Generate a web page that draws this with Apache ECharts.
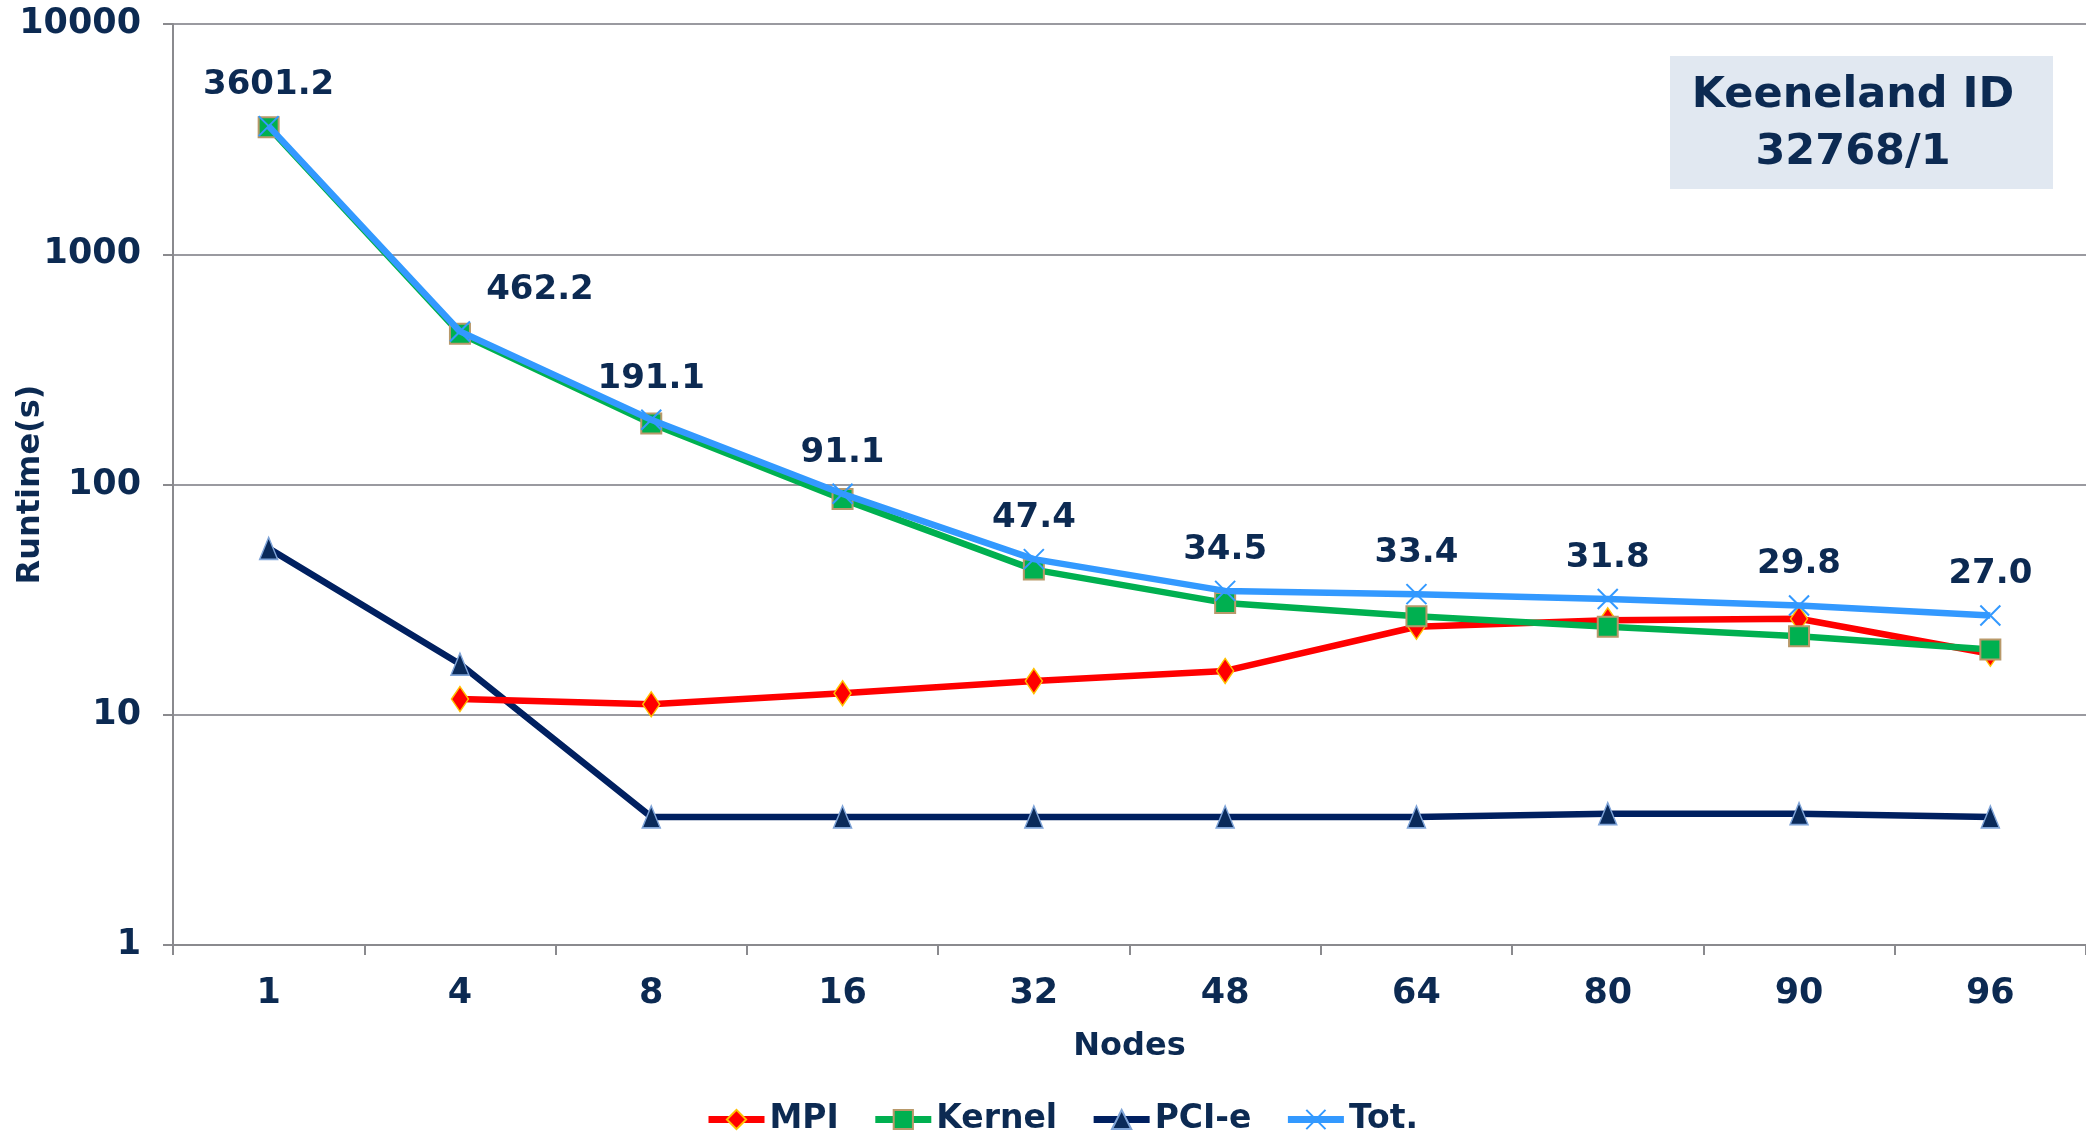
<!DOCTYPE html>
<html>
<head>
<meta charset="utf-8">
<style>
  html, body { margin: 0; padding: 0; background: #fff; }
  #chart { width: 2086px; height: 1138px; }
</style>
<script src="https://cdn.jsdelivr.net/npm/echarts@6/dist/echarts.min.js"></script>
</head>
<body>
<div id="chart"></div>
<script>
// nodes on the x axis
var nodes = ['1', '4', '8', '16', '32', '48', '64', '80', '90', '96'];
// runtimes in seconds
var mpi = [null, 11.7, 11.1, 12.4, 14.0, 15.5, 24.1, 25.7, 26.1, 18.4];
var kernel = [3560, 452, 184, 86.4, 42.7, 30.6, 26.8, 24.1, 21.9, 19.2];
var pcie = [52.8, 16.6, 3.6, 3.6, 3.6, 3.6, 3.6, 3.72, 3.72, 3.6];
var total = [3601.2, 462.2, 191.1, 91.1, 47.4, 34.5, 33.4, 31.8, 29.8, 27.0];

var navy = '#0c2a52';
var font = 'DejaVu Sans';

var totalData = total.map(function (v, i) {
  // the 462.2 label sits off to the right in the original
  return i === 1 ? { value: v, label: { offset: [80, 0] } } : v;
});

var chart = echarts.init(document.getElementById('chart'));
chart.setOption({
  animation: false,
  textStyle: { fontFamily: font },
  grid: { left: 173, right: 0, top: 24, bottom: 193, containLabel: false, outerBoundsMode: 'none' },
  legend: {
    left: 700,
    top: 1098,
    itemWidth: 56,
    itemHeight: 24,
    itemGap: 33,
    lineStyle: { width: 7 },
    textStyle: { color: navy, fontSize: 33, fontWeight: 'bold', fontFamily: font },
    data: ['MPI', 'Kernel', 'PCI-e', 'Tot.']
  },
  xAxis: {
    type: 'category',
    data: nodes,
    name: 'Nodes',
    nameLocation: 'middle',
    nameGap: 86,
    nameMoveOverlap: false,
    nameTextStyle: { color: navy, fontSize: 32, fontWeight: 'bold' },
    axisLine: { lineStyle: { color: '#8a8a8e', width: 2 } },
    axisTick: { show: true, length: 10, lineStyle: { color: '#8a8a8e', width: 2 } },
    axisLabel: { color: navy, fontSize: 35, fontWeight: 'bold', margin: 31 }
  },
  yAxis: {
    type: 'log',
    logBase: 10,
    min: 1,
    max: 10000,
    name: 'Runtime(s)',
    nameLocation: 'middle',
    nameGap: 126,
    nameMoveOverlap: false,
    nameTextStyle: { color: navy, fontSize: 32, fontWeight: 'bold' },
    axisLine: { show: true, lineStyle: { color: '#8a8a8e', width: 2 } },
    axisTick: { show: true, length: 10, lineStyle: { color: '#8a8a8e', width: 2 } },
    axisLabel: {
      color: navy, fontSize: 35, fontWeight: 'bold', margin: 32,
      formatter: function (v) { return String(Math.round(v)); }
    },
    splitLine: { lineStyle: { color: '#9a9aa0', width: 2 } }
  },
  graphic: [{
    type: 'group',
    left: 1670,
    top: 56,
    children: [{
      type: 'rect',
      shape: { x: 0, y: 0, width: 383, height: 133 },
      style: { fill: '#e1e8f1' }
    }, {
      type: 'text',
      x: 183,
      y: 68,
      style: {
        text: 'Keeneland ID\n32768/1',
        align: 'center',
        verticalAlign: 'middle',
        lineHeight: 57,
        fill: navy,
        font: 'bold 43px "DejaVu Sans"'
      }
    }]
  }],
  series: [
    {
      name: 'MPI',
      type: 'line',
      data: mpi,
      symbol: 'diamond',
      symbolSize: [17, 25],
      lineStyle: { color: '#ff0000', width: 6.5 },
      itemStyle: { color: '#ff0000', borderColor: '#ffc000', borderWidth: 1.5 },
      z: 3
    },
    {
      name: 'Kernel',
      type: 'line',
      data: kernel,
      symbol: 'rect',
      symbolSize: 20,
      lineStyle: { color: '#00b050', width: 6.5 },
      itemStyle: { color: '#00b050', borderColor: '#b8996a', borderWidth: 2 },
      z: 4
    },
    {
      name: 'PCI-e',
      type: 'line',
      data: pcie,
      symbol: 'triangle',
      symbolSize: [18, 22],
      lineStyle: { color: '#002060', width: 6.5 },
      itemStyle: { color: '#0a2a5a', borderColor: '#7fa4d8', borderWidth: 1.5 },
      z: 2
    },
    {
      name: 'Tot.',
      type: 'line',
      data: totalData,
      symbol: 'path://M0,0L10,10M10,0L0,10',
      symbolSize: 20,
      lineStyle: { color: '#3399ff', width: 6.5 },
      itemStyle: { color: '#3399ff', borderColor: '#3399ff', borderWidth: 2 },
      label: {
        show: true,
        position: 'top',
        distance: 13,
        color: navy,
        fontSize: 34,
        fontWeight: 'bold',
        formatter: function (p) { return Number(p.value).toFixed(1); }
      },
      z: 5
    }
  ]
});
</script>
</body>
</html>
